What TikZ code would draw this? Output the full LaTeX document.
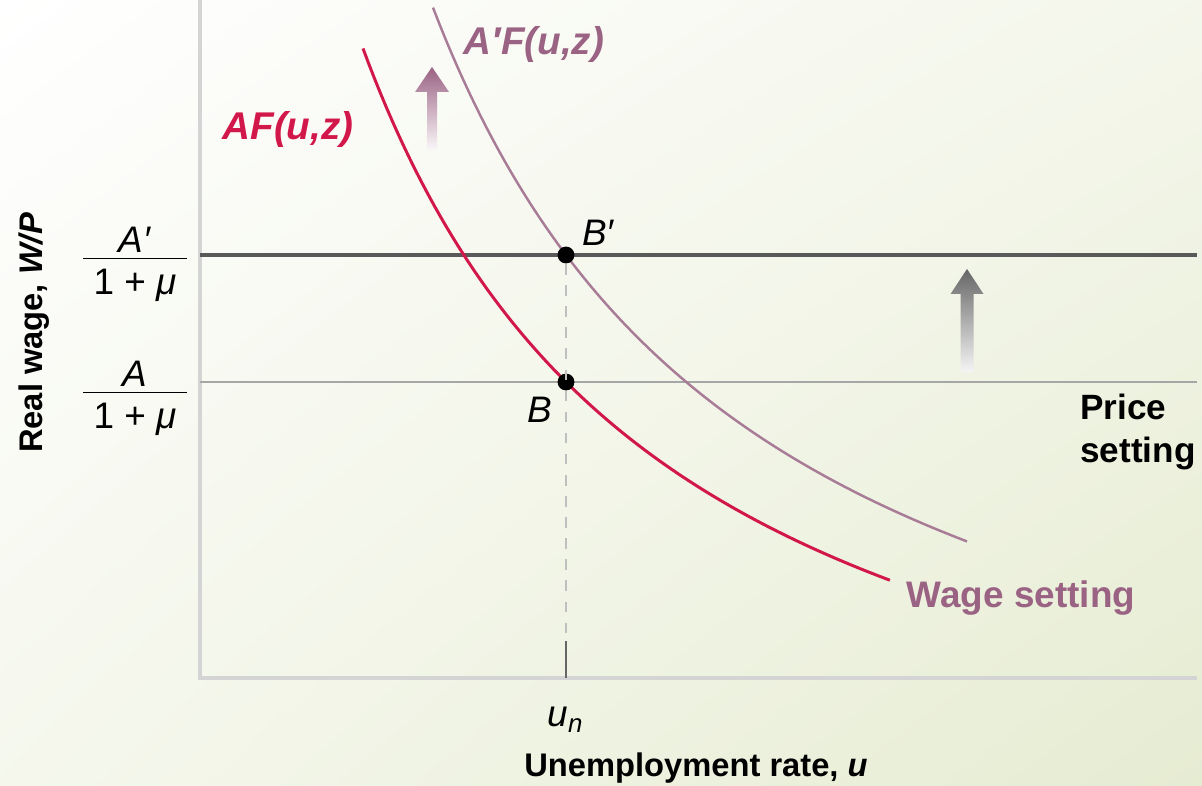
\documentclass[tikz,border=0pt]{standalone}
\usepackage{fontspec}
\setmainfont{Liberation Sans}
\usepackage{xcolor}
\usepackage{tikz}
\usetikzlibrary{calc}
\usetikzlibrary{shadings}
\definecolor{wagered}{HTML}{D2184A}
\definecolor{wagemauve}{HTML}{9A6283}
\definecolor{mauveline}{HTML}{A87C97}
\definecolor{bgpale}{HTML}{E6ECD2}
\tikzset{
  axisline/.style={draw=black!17, line width=0.9pt},
  pricehigh/.style={draw=black!65, line width=1.2pt},
  pricelow/.style={draw=black!35, line width=0.65pt},
  eqdot/.style={circle, fill=black, inner sep=0pt, minimum size=4.8pt},
  curvelbl/.style={font=\fontsize{11}{13}\selectfont\bfseries\itshape},
  axislbl/.style={font=\fontsize{9.3}{11}\selectfont\bfseries},
  ptlbl/.style={font=\fontsize{10.5}{12}\selectfont\itshape},
  fraclbl/.style={font=\fontsize{10.5}{12}\selectfont, inner sep=0pt}
}

\begin{document}
\begin{tikzpicture}
    % background
    \shade[upper left=white, upper right=bgpale!45, lower left=bgpale!40, lower right=bgpale]
      (-2,-1.07) rectangle (10.02,6.78);
    \useasboundingbox (-2,-1.07) rectangle (10.02,6.78);
    % axes
    \draw[axisline] (0,6.78)--(0,0)--(9.97,0);
    % price setting lines
    \draw[pricelow] (0,2.96)--(9.97,2.96);
    \draw[pricehigh] (0,4.23)--(9.97,4.23);
    % wage setting curves
    \draw[wagered, line width=0.85pt] plot[domain=1.63:6.9, samples=90] (\x, {-2.181+26.53/(\x+1.5)});
    \draw[mauveline, line width=0.7pt] plot[domain=2.33:7.67, samples=90] (\x, {-1.963+28.86/(\x+1)});
    % equilibria
    \node[eqdot] (Bp) at (3.66,4.23) {};
    \node[eqdot] (B) at (3.66,2.96) {};
    \coordinate (tick) at (3.66,0.37);
    \coordinate (un) at (3.66,0);
    \draw[black!25, dashed, line width=0.5pt] (Bp)--(tick);
    \draw[black!60, line width=0.6pt] (tick)--(un);
    % shift arrows
    \shade[top color=wagemauve, bottom color=wagemauve!5]
      (2.32,6.11)--(2.49,5.86)--(2.37,5.86)--(2.37,5.28)--(2.27,5.28)--(2.27,5.86)--(2.15,5.86)--cycle;
    \shade[top color=black!60, bottom color=black!4]
      (7.67,4.09)--(7.835,3.84)--(7.735,3.84)--(7.735,3.06)--(7.605,3.06)--(7.605,3.84)--(7.505,3.84)--cycle;
    % labels
    \node[curvelbl, text=wagemauve] (lblAp) at (3.34,6.33) {A′F(u,z)};
    \node[curvelbl, text=wagered] (lblA) at (0.88,5.48) {AF(u,z)};
    \node[axislbl, font=\fontsize{10.5}{12}\selectfont\bfseries, text=wagemauve] (lblws) at (8.21,0.80) {Wage setting};
    \node[axislbl, font=\fontsize{10}{12.3}\selectfont\bfseries, align=left, anchor=west] (lblps) at (8.68,2.46) {Price\\setting};
    \node[ptlbl] (lblBp) at (3.98,4.45) {B′};
    \node[ptlbl] (lblB) at (3.40,2.68) {B};
    \node[ptlbl] (lblun) at (3.66,-0.42) {u\textsubscript{\itshape n}};
    \node[axislbl] (xlbl) at (4.96,-0.90) {Unemployment rate, \textit{u}};
    \node[axislbl, rotate=90] (ylbl) at (-1.66,3.45) {Real wage, \textit{W/P}};
    \node[fraclbl] (fracAp) at (-0.65,4.13)
      {\begin{tabular}{@{\hspace{3pt}}c@{\hspace{3pt}}}\textit{A′}\\[-2pt]\hline\rule{0pt}{10pt}1 + \textit{μ}\end{tabular}};
    \node[fraclbl] (fracA) at (-0.65,2.79)
      {\begin{tabular}{@{\hspace{3pt}}c@{\hspace{3pt}}}\textit{A}\\[-2pt]\hline\rule{0pt}{10pt}1 + \textit{μ}\end{tabular}};
\end{tikzpicture}
\end{document}
